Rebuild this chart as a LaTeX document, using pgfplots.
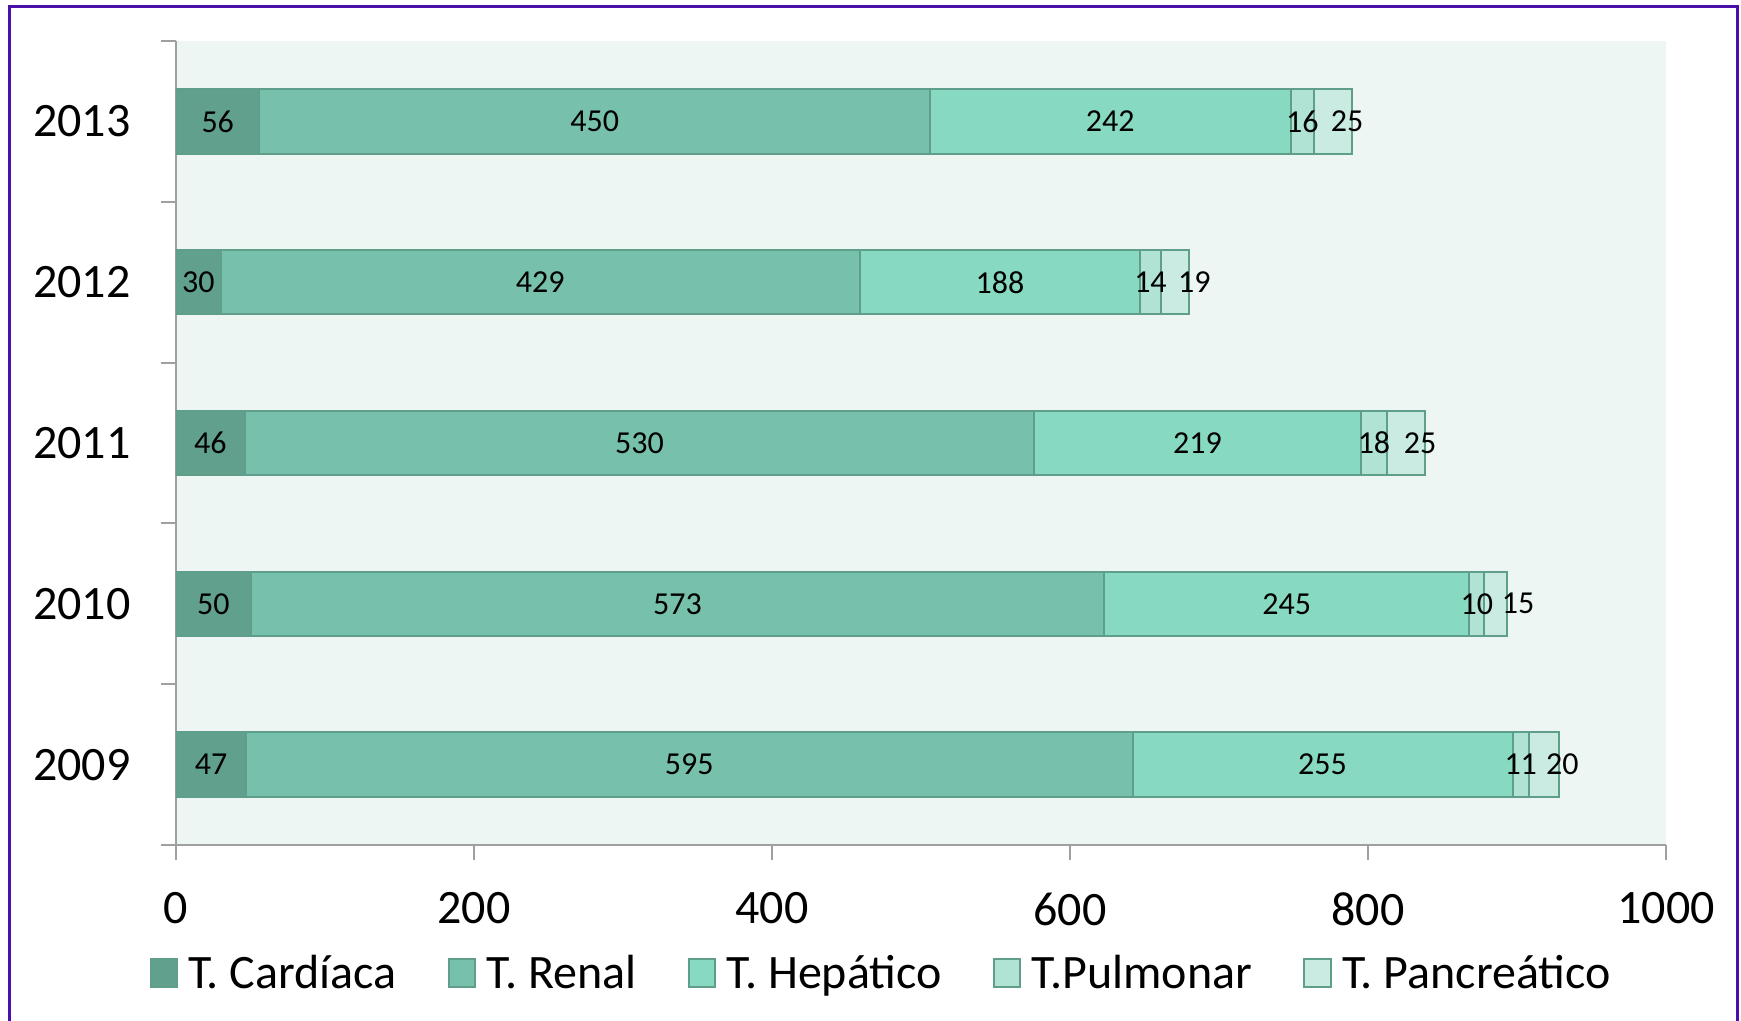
\documentclass[border=0pt]{standalone}
\usepackage{fontspec}
\setmainfont{Carlito}
\usepackage{pgfplots}
\pgfplotsset{compat=1.18}
\definecolor{cCar}{HTML}{62A08E}
\definecolor{cRen}{HTML}{77C0AB}
\definecolor{cHep}{HTML}{88D9C2}
\definecolor{cPul}{HTML}{B0E3D4}
\definecolor{cPan}{HTML}{CAEBE1}
\definecolor{bord}{HTML}{5F9E8B}
\definecolor{bgc}{HTML}{EDF6F3}
\definecolor{axgray}{HTML}{A0A0A0}
\definecolor{frame}{HTML}{4B0FAA}
\begin{document}
\begin{tikzpicture}
\useasboundingbox (0,0) rectangle (435.25bp,255.25bp);
\draw[color=frame, line width=0.75bp] (2.25bp,-5bp) -- (2.25bp,253.5bp) -- (434.25bp,253.5bp) -- (434.25bp,-5bp);
\begin{axis}[
  at={(44bp,44bp)}, anchor=south west,
  width=372.5bp, height=201bp, scale only axis,
  xbar stacked, bar width=0.4,
  xmin=0, xmax=1000, ymin=-0.5, ymax=4.5,
  axis x line=bottom, axis y line=left,
  axis line style={draw=axgray, line width=0.5bp, -},
  axis background/.style={fill=bgc},
  xtick={0,200,400,600,800,1000},
  ytick={-0.5,0.5,1.5,2.5,3.5,4.5}, yticklabels={},
  extra y ticks={0,1,2,3,4}, extra y tick labels={2009,2010,2011,2012,2013},
  extra y tick style={major tick length=0pt},
  tick align=outside, major tick length=3.75bp,
  tick style={draw=axgray, line width=0.5bp},
  ticklabel style={font=\fontsize{12bp}{14bp}\selectfont, inner sep=0pt},
  xticklabel style={yshift=-8bp},
  yticklabel style={xshift=-11.2bp},
  /pgf/number format/assume math mode=true,
  /pgf/number format/1000 sep={},
  every axis plot/.append style={draw=bord, line width=0.5bp},
  legend style={at={(0.4725,-0.1592)}, anchor=center, draw=none, fill=none, inner sep=0pt,
    legend columns=5, font=\fontsize{12bp}{14bp}\selectfont,
    nodes={inner sep=0pt, text height=7.7bp, text depth=0pt},
    cells={anchor=west},
    /tikz/every odd column/.append style={column sep=2.6bp},
    /tikz/every even column/.append style={column sep=12.8bp}},
  legend image code/.code={\draw[#1] (0bp,-3.4bp) rectangle (6.6bp,3.4bp);},
]
\addplot[fill=cCar] coordinates {(47,0) (50,1) (46,2) (30,3) (56,4)};
\addlegendentry{T. Cardíaca}
\addplot[fill=cRen] coordinates {(595,0) (573,1) (530,2) (429,3) (450,4)};
\addlegendentry{T. Renal}
\addplot[fill=cHep] coordinates {(255,0) (245,1) (219,2) (188,3) (242,4)};
\addlegendentry{T. Hepático}
\addplot[fill=cPul] coordinates {(11,0) (10,1) (18,2) (14,3) (16,4)};
\addlegendentry{T.Pulmonar}
\addplot[fill=cPan] coordinates {(20,0) (15,1) (25,2) (19,3) (25,4)};
\addlegendentry{T. Pancreático}
\end{axis}
\begin{axis}[
  at={(44bp,44bp)}, anchor=south west,
  width=372.5bp, height=201bp, scale only axis,
  xmin=0, xmax=1000, ymin=-0.5, ymax=4.5,
  hide axis,
]
\addplot[draw=none, nodes near coords, point meta=explicit symbolic,
  every node near coord/.append style={anchor=center, font=\fontsize{8bp}{9.5bp}\selectfont, inner sep=0pt}]
  table[meta=label] {
x y label
23.5 0 47
344.5 0 595
769.5 0 255
902.5 0 11
930.5 0 20
25 1 50
336.5 1 573
745.5 1 245
873 1 10
900.7 1 15
23 2 46
311 2 530
685.5 2 219
804 2 18
835 2 25
15 3 30
244.5 3 429
553 3 188
654 3 14
683.5 3 19
28 4 56
281 4 450
627 4 242
756 4 16
786 4 25
};
\end{axis}
\end{tikzpicture}
\end{document}
